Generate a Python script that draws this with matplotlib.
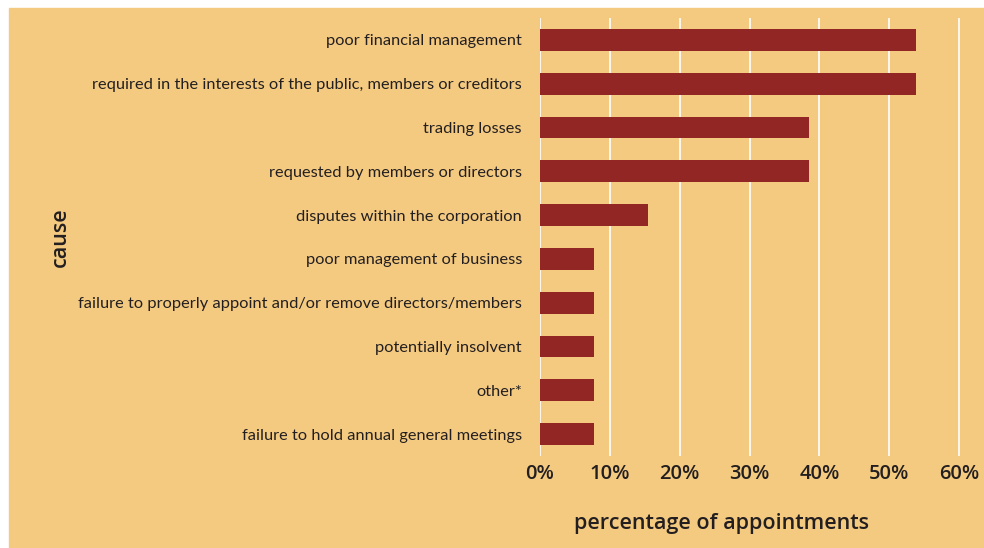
import matplotlib.pyplot as plt
from matplotlib.patches import Rectangle

causes = [
    "poor financial management",
    "required in the interests of the public, members or creditors",
    "trading losses",
    "requested by members or directors",
    "disputes within the corporation",
    "poor management of business",
    "failure to properly appoint and/or remove directors/members",
    "potentially insolvent",
    "other*",
    "failure to hold annual general meetings",
]
percent = [53.8, 53.8, 38.5, 38.5, 15.4, 7.7, 7.7, 7.7, 7.7, 7.7]
xticks = [0, 10, 20, 30, 40, 50, 60]

tan = "#F4CA80"
bar_color = "#922625"
text_color = "#231F20"
head_font = ["Open Sans", "DejaVu Sans"]
label_font = ["Lato", "DejaVu Sans"]

W, H = 984, 548
fig = plt.figure(figsize=(W / 100, H / 100), dpi=100, facecolor="white")

# tan panel behind everything (white strip top and left)
fig.patches.append(Rectangle((9 / W, 0), 1 - 9 / W, 1 - 8 / H,
                             transform=fig.transFigure, color=tan, zorder=-10))

px10 = (959 - 540) / 60.0
ax = fig.add_axes([540 / W, (H - 456) / H, 60.6 * px10 / W, 438 / H])
ax.set_facecolor(tan)

y = list(range(len(causes)))
ax.barh(y, percent, height=0.5, color=bar_color, zorder=3)

ax.set_ylim(len(causes) - 0.5, -0.5)
ax.set_xlim(0, 60.6)
ax.set_yticks(y)
ax.set_yticklabels(causes, family=label_font, fontsize=11.8, color=text_color)
ax.set_xticks(xticks)
ax.set_xticklabels([f"{t}%" for t in xticks], family=head_font,
                   fontsize=14.5, fontweight="semibold", color=text_color)
ax.tick_params(axis="y", length=0, pad=13)
ax.tick_params(axis="x", length=0, pad=6)

ax.grid(True, axis="x", color="white", linewidth=1.2, zorder=1)
ax.set_axisbelow(True)
for s in ax.spines.values():
    s.set_visible(False)

fig.text(722 / W, 1 - 523 / H, "percentage of appointments",
         ha="center", va="center", fontsize=15.5, fontweight="semibold",
         family=head_font, color=text_color)
fig.text(60 / W, 1 - 237 / H, "cause", rotation=90,
         ha="center", va="center", fontsize=15.5, fontweight="semibold",
         family=head_font, color=text_color)

fig.savefig("out.png", dpi=100, facecolor="white")
